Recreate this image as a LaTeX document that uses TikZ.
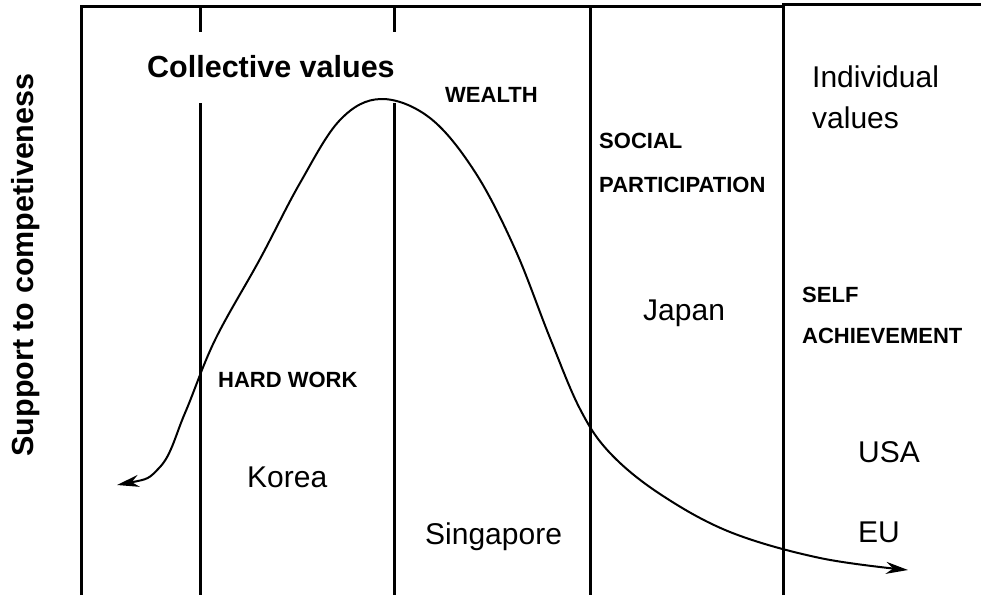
\documentclass[tikz,border=0pt]{standalone}
\usepackage{fontspec}
\setmainfont{Liberation Sans}
\usetikzlibrary{arrows.meta}
\begin{document}
\begin{tikzpicture}[x=1pt,y=-1pt,
  frame/.style={line width=3pt},
  curveline/.style={line width=2pt,
    {Stealth[length=22pt,width=12pt,inset=7pt]}-{Stealth[length=22pt,width=12pt,inset=7pt]}},
  big/.style={inner sep=0pt, anchor=base west, font=\fontsize{30}{36}\selectfont},
  bigbold/.style={inner sep=0pt, anchor=base west, font=\fontsize{30.5}{36}\selectfont\bfseries},
  tag/.style={inner sep=0pt, anchor=base west, font=\fontsize{22}{26}\selectfont\bfseries}]
\useasboundingbox (0,0) rectangle (981,595);

% outer frame
\draw[frame] (81,595) -- (81,6) -- (783,6);
\draw[frame] (783,595) -- (783,4) -- (981,4);
% column dividers
\draw[frame] (200,6) -- (200,32);
\draw[frame] (200,103) -- (200,595);
\draw[frame] (394,6) -- (394,32);
\draw[frame] (394,103) -- (394,595);
\draw[frame] (590,6) -- (590,595);

% axis title
\node[rotate=90, anchor=base, inner sep=0pt, font=\fontsize{30.5}{36}\selectfont\bfseries]
  (axis) at (33,265) {Support to competiveness};

% value curve
\coordinate (cstart) at (117,485);
\coordinate (cend) at (908,570);
\draw[curveline] plot[smooth, tension=0.6] coordinates {
  (cstart) (160,467) (185,413) (215,340) (260,259) (300,183) (340,120)
  (381,99) (430,118) (475,172) (515,249) (550,338) (580,409) (610,453)
  (660,494) (730,532) (820,558) (cend)};

% headings and labels
\node[bigbold] (collective) at (147,77) {Collective values};
\node[big] (indiv1) at (812,87) {Individual};
\node[big] (indiv2) at (812,128) {values};

\node[tag] (wealth) at (445,102) {WEALTH};
\node[tag] (social) at (599,148) {SOCIAL};
\node[tag] (partic) at (599,192) {PARTICIPATION};
\node[tag] (self) at (802,302) {SELF};
\node[tag] (achieve) at (802,343) {ACHIEVEMENT};
\node[tag] (hard) at (218,387) {HARD WORK};

\node[big] (japan) at (643,320) {Japan};
\node[big] (korea) at (247,487) {Korea};
\node[big] (singapore) at (425,544) {Singapore};
\node[big] (usa) at (858,462) {USA};
\node[big] (eu) at (858,542) {EU};
\end{tikzpicture}
\end{document}
